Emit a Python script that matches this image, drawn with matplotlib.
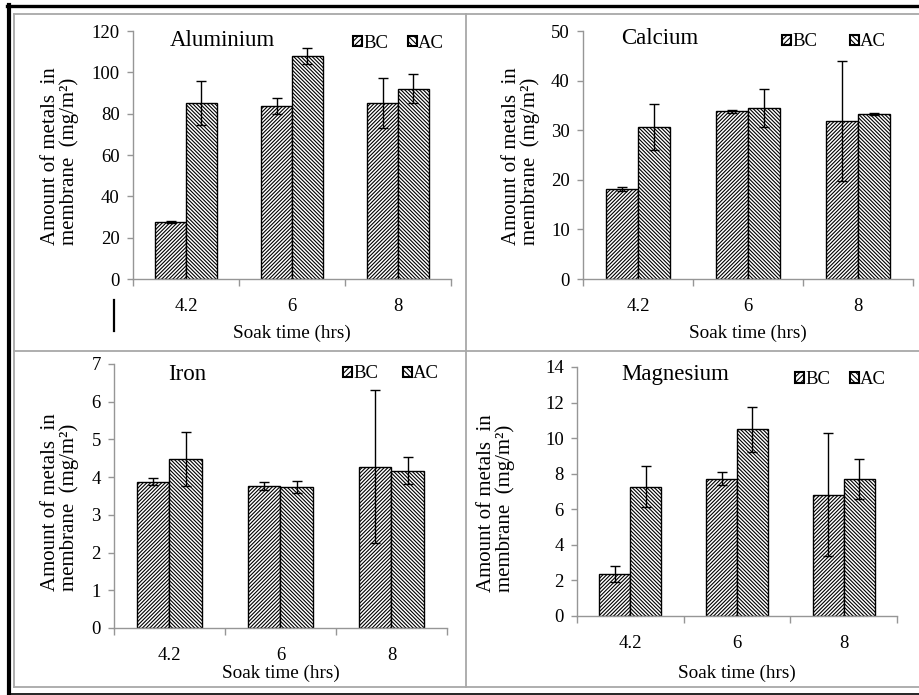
import matplotlib
matplotlib.use("Agg")
import matplotlib.pyplot as plt
from matplotlib.lines import Line2D
from matplotlib.patches import Patch
from matplotlib.legend import Legend
import numpy as np

plt.rcParams['font.family'] = ['Liberation Serif', 'DejaVu Serif']
plt.rcParams['hatch.linewidth'] = 0.8

categories = ["4.2", "6", "8"]
series_names = ["BC", "AC"]

al_bc = [27.7, 83.7, 85.3]
al_bc_err = [0.5, 4.0, 12.0]
al_ac = [85.2, 107.9, 92.0]
al_ac_err = [10.5, 3.9, 7.0]

ca_bc = [18.1, 33.8, 31.8]
ca_bc_err = [0.4, 0.3, 12.1]
ca_ac = [30.6, 34.5, 33.2]
ca_ac_err = [4.6, 3.8, 0.2]

fe_bc = [3.88, 3.77, 4.28]
fe_bc_err = [0.10, 0.11, 2.03]
fe_ac = [4.48, 3.73, 4.17]
fe_ac_err = [0.71, 0.16, 0.36]

mg_bc = [2.36, 7.71, 6.83]
mg_bc_err = [0.45, 0.37, 3.44]
mg_ac = [7.28, 10.50, 7.71]
mg_ac_err = [1.15, 1.26, 1.14]

titles = ["Aluminium", "Calcium", "Iron", "Magnesium"]
y_max = [120, 50, 7, 14]
y_step = [20, 10, 1, 2]

W, H = 920, 695
fig = plt.figure(figsize=(W / 100, H / 100), dpi=100)

# layout in pixels: (left, right, top(y of ymax), bottom(y of 0))
boxes = [(133, 451, 31, 279), (583, 913, 31, 279),
         (114, 447, 364, 628), (577, 897, 367, 616)]
title_pos = [(222, 40), (660, 39), (187, 375), (675, 375)]
legend_bc = [(353, 43), (782, 42), (343, 374), (795, 380)]
legend_ac = [(408, 43), (850, 42), (403, 374), (850, 380)]
xlabel_y = [333, 333, 673, 673]
ylabel_x = [60, 521, 60, 496]
ylabel_bottom = [245, 245, 591, 592]

data = [(al_bc, al_bc_err, al_ac, al_ac_err),
        (ca_bc, ca_bc_err, ca_ac, ca_ac_err),
        (fe_bc, fe_bc_err, fe_ac, fe_ac_err),
        (mg_bc, mg_bc_err, mg_ac, mg_ac_err)]

grey = '#969696'
bw = 0.29
x = np.arange(len(categories))
hatch_bc = '/' * 9
hatch_ac = '\\' * 9

for i in range(4):
    l, r, t, b = boxes[i]
    ax = fig.add_axes([l / W, 1 - b / H, (r - l) / W, (b - t) / H])
    bc, bce, ac, ace = data[i]
    ax.bar(x - bw / 2, bc, bw, color='white', edgecolor='black', hatch=hatch_bc,
           linewidth=1.0, label=series_names[0], zorder=2)
    ax.bar(x + bw / 2, ac, bw, color='white', edgecolor='black', hatch=hatch_ac,
           linewidth=1.0, label=series_names[1], zorder=2)
    ax.errorbar(x - bw / 2, bc, yerr=bce, fmt='none', ecolor='black', elinewidth=1.0,
                capsize=3.5, capthick=1.0, zorder=3)
    ax.errorbar(x + bw / 2, ac, yerr=ace, fmt='none', ecolor='black', elinewidth=1.0,
                capsize=3.5, capthick=1.0, zorder=3)
    ax.set_xlim(-0.5, len(categories) - 0.5)
    ax.set_ylim(0, y_max[i])
    ax.set_yticks(np.arange(0, y_max[i] + y_step[i] / 2, y_step[i]))
    ax.set_xticks(x)
    ax.set_xticklabels(categories)
    ax.set_xticks(np.arange(-0.5, len(categories)), minor=True)
    ax.tick_params(axis='x', which='major', length=0, pad=14, labelsize=13.5)
    ax.tick_params(axis='x', which='minor', length=5, color=grey, width=1)
    ax.tick_params(axis='y', length=4.5, color=grey, width=1, pad=5, labelsize=13.5)
    for s in ['top', 'right']:
        ax.spines[s].set_visible(False)
    for s in ['left', 'bottom']:
        ax.spines[s].set_color(grey)
        ax.spines[s].set_linewidth(1)
    ax.set_facecolor('none')

    ax.set_xlabel("Soak time (hrs)", fontsize=13.8)
    ax.xaxis.set_label_coords(0.5, (b - xlabel_y[i]) / (b - t), transform=ax.transAxes)
    ax.xaxis.label.set_va('center')
    ax.set_ylabel("Amount of metals  in\nmembrane  (mg/m²)", fontsize=15,
                  multialignment='left', linespacing=1.0)
    ax.yaxis.set_label_coords((ylabel_x[i] - l) / (r - l), (b - ylabel_bottom[i]) / (b - t),
                              transform=ax.transAxes)
    ax.yaxis.label.set_va('center')
    ax.yaxis.label.set_ha('left')

    tx, ty = title_pos[i]
    ax.text((tx - l) / (r - l), (b - ty) / (b - t), titles[i], transform=ax.transAxes,
            ha='center', va='center', fontsize=16.5)

    hatches_leg = ['/' * 6, '\\' * 6]
    for j, pos in enumerate([legend_bc[i], legend_ac[i]]):
        lx, ly = pos
        h = Patch(facecolor='white', edgecolor='black', hatch=hatches_leg[j], linewidth=1.5)
        leg = Legend(ax, [h], [series_names[j]], frameon=False, fontsize=13.5,
                     handlelength=0.5, handleheight=0.5, handletextpad=0.05,
                     borderpad=0, borderaxespad=0, loc='center left',
                     bbox_to_anchor=((lx - l) / (r - l), (b - ly) / (b - t)),
                     bbox_transform=ax.transAxes)
        ax.add_artist(leg)

def fx(px):
    return px / W

def fy(py):
    return 1 - py / H

lg = '#a8a8a8'
# grey cell grid
fig.add_artist(Line2D([fx(14), fx(920)], [fy(13.5), fy(13.5)], color=lg, lw=1.3))
fig.add_artist(Line2D([fx(14), fx(14)], [fy(13.5), fy(687)], color=lg, lw=1.3))
fig.add_artist(Line2D([fx(14), fx(920)], [fy(687), fy(687)], color=lg, lw=1.3))
fig.add_artist(Line2D([fx(466), fx(466)], [fy(13.5), fy(687)], color=lg, lw=1.3))
fig.add_artist(Line2D([fx(14), fx(920)], [fy(351), fy(351)], color=lg, lw=1.3))
# black outer frame
fig.add_artist(Line2D([fx(7), fx(920)], [fy(5.5), fy(5.5)], color='black', lw=2.4))
fig.add_artist(Line2D([fx(9), fx(9)], [fy(4.5), fy(694)], color='black', lw=3.0))
fig.add_artist(Line2D([fx(9), fx(920)], [fy(693.5), fy(693.5)], color='black', lw=1.2))
# stray mark
fig.add_artist(Line2D([fx(114.5), fx(114.5)], [fy(300), fy(331)], color='black', lw=1.6))

fig.savefig("out.png", dpi=100)
